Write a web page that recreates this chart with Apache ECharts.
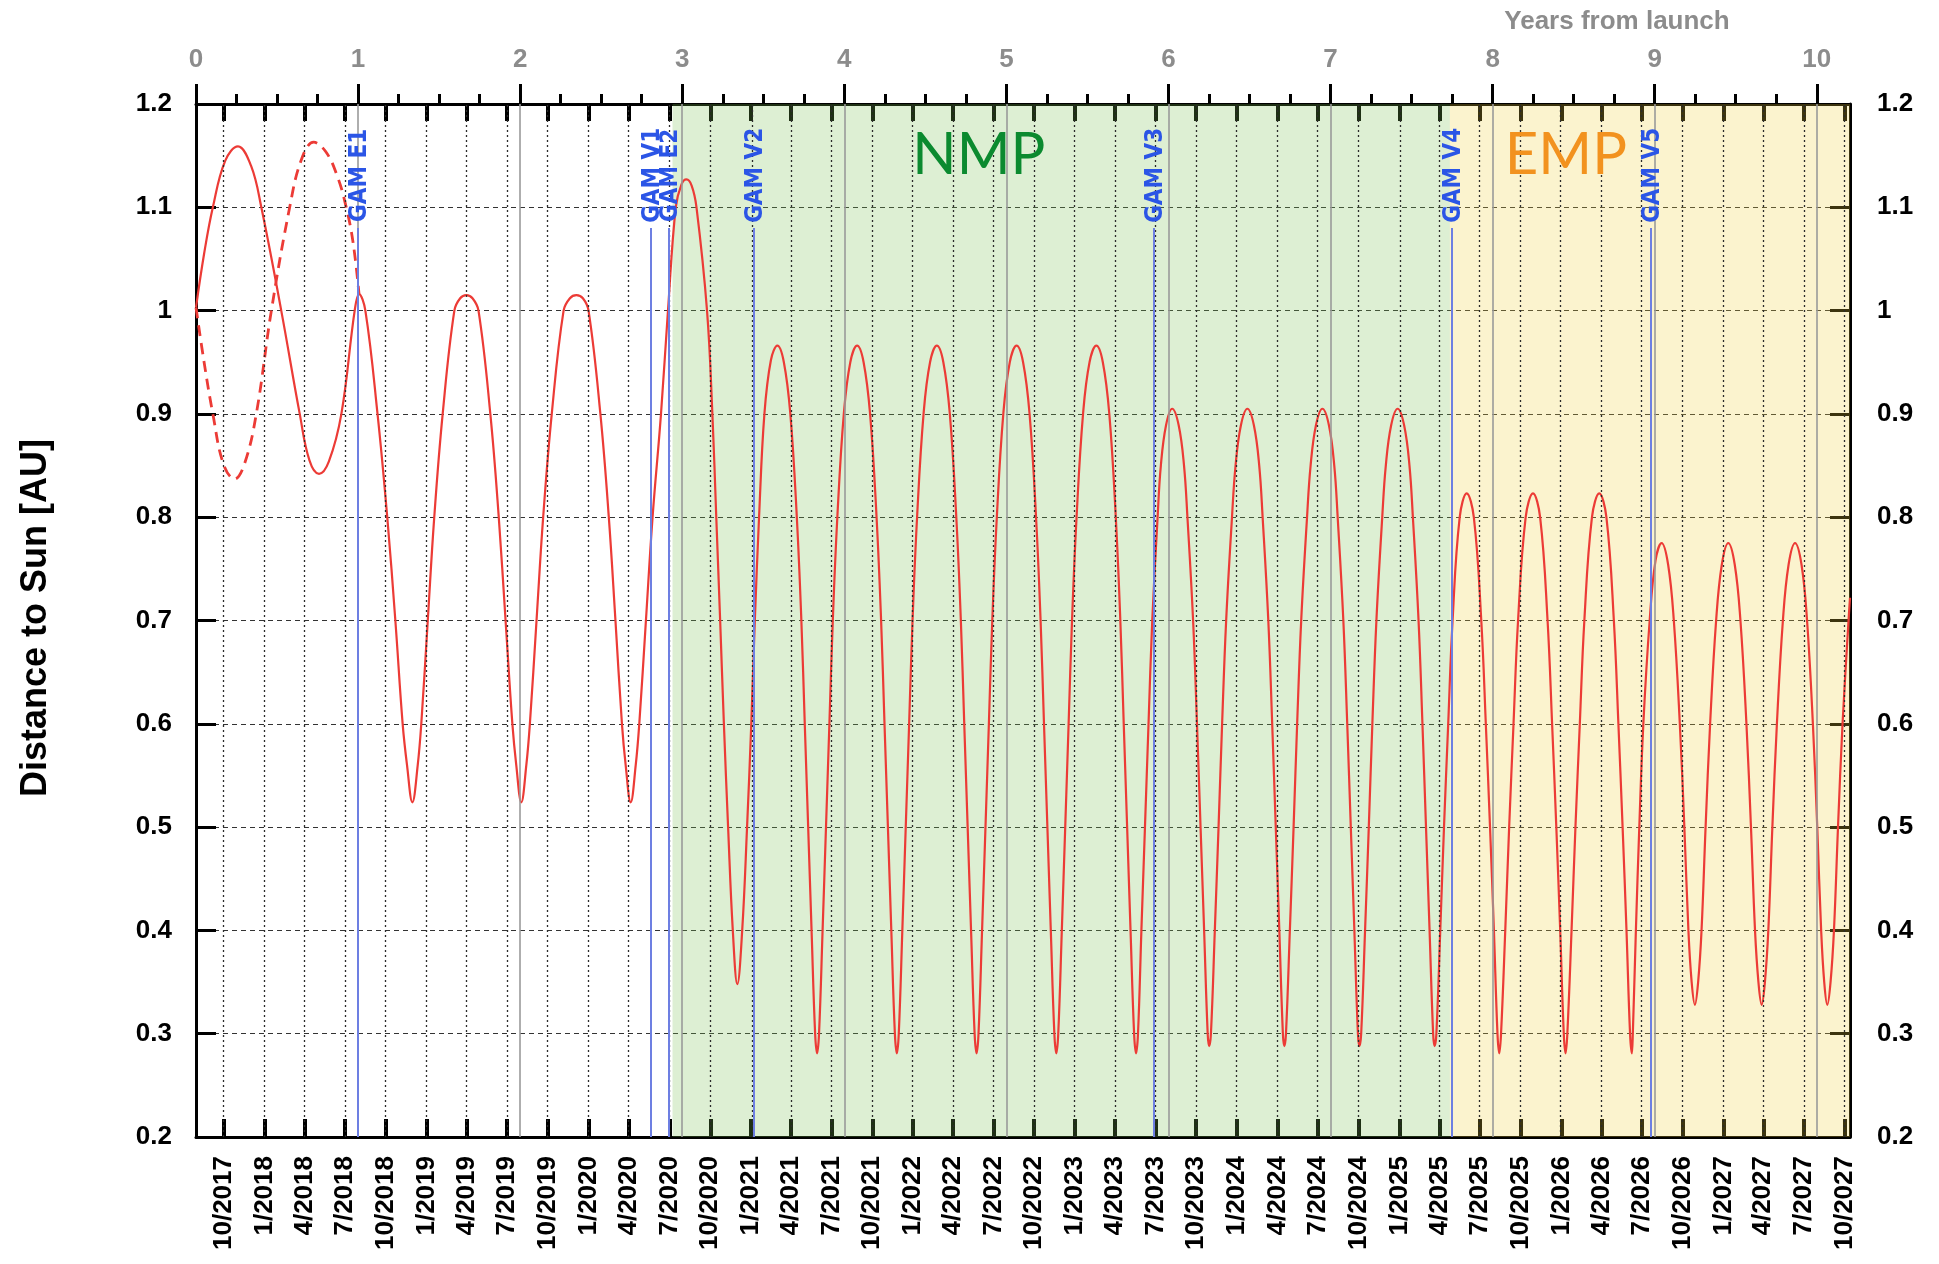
<!DOCTYPE html>
<html>
<head>
<meta charset="utf-8">
<title>Distance to Sun</title>
<script src="https://cdn.jsdelivr.net/npm/echarts@6/dist/echarts.min.js"></script>
<style>
  html, body { margin: 0; padding: 0; background: #ffffff; }
  #chart { width: 1939px; height: 1264px; }
</style>
</head>
<body>
<div id="chart"></div>
<script>
// ---- data -------------------------------------------------------------
// Launch epoch; the x scale is "years from launch".
const LAUNCH_UTC = Date.UTC(2017, 6, 30);
const X_MAX = 10.205;

// Calendar ticks (bottom axis)
const quarterLabels = [
  '10/2017',
  '1/2018', '4/2018', '7/2018', '10/2018',
  '1/2019', '4/2019', '7/2019', '10/2019',
  '1/2020', '4/2020', '7/2020', '10/2020',
  '1/2021', '4/2021', '7/2021', '10/2021',
  '1/2022', '4/2022', '7/2022', '10/2022',
  '1/2023', '4/2023', '7/2023', '10/2023',
  '1/2024', '4/2024', '7/2024', '10/2024',
  '1/2025', '4/2025', '7/2025', '10/2025',
  '1/2026', '4/2026', '7/2026', '10/2026',
  '1/2027', '4/2027', '7/2027', '10/2027'
];

// Years-from-launch ticks (top axis)
const yearTicks = [0, 1, 2, 3, 4, 5, 6, 7, 8, 9, 10];

// Sun distance [AU] versus years from launch, baseline trajectory
const distanceSolid = [
  [0.000, 1.003], [0.050, 1.055], [0.104, 1.100], [0.180, 1.145], [0.259, 1.159], [0.340, 1.140],
  [0.403, 1.100], [0.526, 1.000], [0.640, 0.900], [0.700, 0.855], [0.759, 0.842], [0.820, 0.854],
  [0.897, 0.900], [0.979, 1.000], [1.006, 1.016],
  [1.045, 1.000], [1.120, 0.900], [1.180, 0.800], [1.230, 0.700], [1.275, 0.600], [1.302, 0.560],
  [1.335, 0.524], [1.368, 0.560], [1.390, 0.600], [1.430, 0.700], [1.470, 0.800], [1.522, 0.900],
  [1.594, 1.000], [1.630, 1.012], [1.668, 1.015], [1.706, 1.012], [1.743, 1.000], [1.816, 0.900],
  [1.868, 0.800], [1.910, 0.700], [1.952, 0.600], [1.976, 0.560], [2.007, 0.524], [2.038, 0.560],
  [2.060, 0.600], [2.101, 0.700], [2.142, 0.800], [2.195, 0.900], [2.268, 1.000], [2.307, 1.012],
  [2.347, 1.015], [2.387, 1.012], [2.422, 1.000], [2.495, 0.900], [2.547, 0.800], [2.588, 0.700],
  [2.628, 0.600], [2.651, 0.560], [2.682, 0.524],
  [2.713, 0.560], [2.735, 0.600], [2.776, 0.700], [2.817, 0.800], [2.869, 0.900], [2.912, 1.000],
  [2.960, 1.100], [2.995, 1.122], [3.026, 1.127], [3.058, 1.121], [3.088, 1.100], [3.153, 1.000],
  [3.186, 0.900], [3.210, 0.800], [3.234, 0.700], [3.257, 0.600], [3.283, 0.500], [3.312, 0.400],
  [3.340, 0.348], [3.370, 0.400], [3.400, 0.500], [3.426, 0.600], [3.448, 0.700], [3.474, 0.800],
  [3.507, 0.900], [3.547, 0.952], [3.587, 0.966],
  // nominal mission phase
  [3.627, 0.950], [3.667, 0.900], [3.707, 0.800], [3.735, 0.700], [3.756, 0.600], [3.777, 0.500],
  [3.798, 0.400], [3.820, 0.300], [3.832, 0.281],
  [3.844, 0.300], [3.866, 0.400], [3.887, 0.500], [3.908, 0.600], [3.929, 0.700], [3.957, 0.800],
  [3.997, 0.900], [4.037, 0.950], [4.079, 0.966],
  [4.119, 0.950], [4.159, 0.900], [4.199, 0.800], [4.227, 0.700], [4.248, 0.600], [4.269, 0.500],
  [4.290, 0.400], [4.312, 0.300], [4.324, 0.281],
  [4.336, 0.300], [4.358, 0.400], [4.379, 0.500], [4.400, 0.600], [4.421, 0.700], [4.449, 0.800],
  [4.489, 0.900], [4.529, 0.950], [4.571, 0.966],
  [4.611, 0.950], [4.651, 0.900], [4.691, 0.800], [4.719, 0.700], [4.740, 0.600], [4.761, 0.500],
  [4.782, 0.400], [4.804, 0.300], [4.816, 0.281],
  [4.828, 0.300], [4.850, 0.400], [4.871, 0.500], [4.892, 0.600], [4.913, 0.700], [4.941, 0.800],
  [4.981, 0.900], [5.021, 0.950], [5.063, 0.966],
  [5.103, 0.950], [5.143, 0.900], [5.183, 0.800], [5.211, 0.700], [5.232, 0.600], [5.253, 0.500],
  [5.274, 0.400], [5.296, 0.300], [5.308, 0.281],
  [5.320, 0.300], [5.342, 0.400], [5.363, 0.500], [5.384, 0.600], [5.405, 0.700], [5.433, 0.800],
  [5.473, 0.900], [5.513, 0.950], [5.555, 0.966],
  [5.595, 0.950], [5.635, 0.900], [5.675, 0.800], [5.703, 0.700], [5.724, 0.600], [5.745, 0.500],
  [5.766, 0.400], [5.788, 0.300], [5.800, 0.281],
  [5.812, 0.300], [5.833, 0.400], [5.855, 0.500], [5.877, 0.600], [5.900, 0.700], [5.933, 0.800],
  [5.953, 0.850], [5.985, 0.889], [6.023, 0.905],
  [6.063, 0.889], [6.096, 0.850], [6.117, 0.800], [6.152, 0.700], [6.176, 0.600], [6.198, 0.500],
  [6.220, 0.400], [6.242, 0.300], [6.251, 0.288],
  [6.262, 0.300], [6.286, 0.400], [6.309, 0.500], [6.331, 0.600], [6.356, 0.700], [6.392, 0.800],
  [6.414, 0.850], [6.447, 0.889], [6.487, 0.905],
  [6.527, 0.889], [6.560, 0.850], [6.581, 0.800], [6.616, 0.700], [6.640, 0.600], [6.662, 0.500],
  [6.684, 0.400], [6.706, 0.300], [6.715, 0.288],
  [6.725, 0.300], [6.749, 0.400], [6.772, 0.500], [6.794, 0.600], [6.819, 0.700], [6.855, 0.800],
  [6.877, 0.850], [6.910, 0.889], [6.950, 0.905],
  [6.990, 0.889], [7.023, 0.850], [7.044, 0.800], [7.079, 0.700], [7.103, 0.600], [7.125, 0.500],
  [7.147, 0.400], [7.169, 0.300], [7.178, 0.288],
  [7.189, 0.300], [7.213, 0.400], [7.236, 0.500], [7.258, 0.600], [7.283, 0.700], [7.319, 0.800],
  [7.341, 0.850], [7.374, 0.889], [7.414, 0.905],
  [7.454, 0.889], [7.487, 0.850], [7.508, 0.800], [7.543, 0.700], [7.567, 0.600], [7.589, 0.500],
  [7.611, 0.400], [7.633, 0.300], [7.642, 0.288],
  // extended mission phase
  [7.653, 0.300], [7.677, 0.400], [7.700, 0.500], [7.726, 0.600], [7.753, 0.700], [7.797, 0.800],
  [7.840, 0.823],
  [7.884, 0.800], [7.930, 0.700], [7.958, 0.600], [7.984, 0.500], [8.008, 0.400], [8.030, 0.300],
  [8.041, 0.281],
  [8.052, 0.300], [8.078, 0.400], [8.102, 0.500], [8.129, 0.600], [8.157, 0.700], [8.204, 0.800],
  [8.249, 0.823],
  [8.293, 0.800], [8.339, 0.700], [8.367, 0.600], [8.393, 0.500], [8.417, 0.400], [8.439, 0.300],
  [8.450, 0.281],
  [8.461, 0.300], [8.487, 0.400], [8.511, 0.500], [8.538, 0.600], [8.566, 0.700], [8.613, 0.800],
  [8.658, 0.823],
  [8.702, 0.800], [8.748, 0.700], [8.776, 0.600], [8.802, 0.500], [8.826, 0.400], [8.848, 0.300],
  [8.859, 0.281],
  [8.865, 0.300], [8.884, 0.400], [8.905, 0.500], [8.930, 0.600], [8.969, 0.700], [9.005, 0.758],
  [9.043, 0.775],
  [9.083, 0.754], [9.118, 0.700], [9.155, 0.600], [9.183, 0.500], [9.208, 0.400], [9.228, 0.350],
  [9.248, 0.328],
  [9.268, 0.350], [9.289, 0.400], [9.314, 0.500], [9.342, 0.600], [9.379, 0.700], [9.414, 0.754],
  [9.454, 0.775],
  [9.494, 0.754], [9.529, 0.700], [9.566, 0.600], [9.594, 0.500], [9.619, 0.400], [9.640, 0.350],
  [9.660, 0.328],
  [9.680, 0.350], [9.701, 0.400], [9.726, 0.500], [9.754, 0.600], [9.791, 0.700], [9.826, 0.754],
  [9.866, 0.775],
  [9.906, 0.754], [9.940, 0.700], [9.976, 0.600], [10.003, 0.500], [10.027, 0.400], [10.046, 0.350],
  [10.065, 0.328],
  [10.085, 0.350], [10.106, 0.400], [10.131, 0.500], [10.159, 0.600], [10.196, 0.700], [10.205, 0.722]
];

// Alternative first year (dashed), joining the baseline at the Earth flyby
const distanceDashed = [
  [0.000, 1.003], [0.050, 0.950], [0.104, 0.900], [0.170, 0.851], [0.238, 0.837], [0.300, 0.852],
  [0.372, 0.900], [0.465, 1.000], [0.578, 1.100], [0.650, 1.146], [0.726, 1.163], [0.800, 1.154],
  [0.870, 1.131], [0.927, 1.100], [0.970, 1.065], [1.006, 1.016]
];

// Gravity assist manoeuvres
const gamNames = ['GAM E1', 'GAM V1', 'GAM E2', 'GAM V2', 'GAM V3', 'GAM V4', 'GAM V5'];
const gamYears = [1.000, 2.804, 2.915, 3.441, 5.910, 7.748, 8.977];

// Mission phases
const phaseNames = ['NMP', 'EMP'];
const phaseFrom = [2.940, 7.736];
const phaseTo = [7.736, 10.205];

// ---- derived tick positions ----------------------------------------------
const YEAR_MS = 365.25 * 86400000;
function quarterToYears(label) {
  const parts = label.split('/');
  return (Date.UTC(+parts[1], +parts[0] - 1, 1) - LAUNCH_UTC) / YEAR_MS;
}
const quarterPos = quarterLabels.map(quarterToYears);
const quarterLabelByKey = {};
quarterPos.forEach((p, i) => { quarterLabelByKey[p.toFixed(5)] = quarterLabels[i]; });

const quarterYearTicks = [];
yearTicks.forEach(y => {
  [0.25, 0.5, 0.75].forEach(f => { if (y + f < X_MAX) quarterYearTicks.push(y + f); });
});

// ---- styling --------------------------------------------------------------
const FONT = '"Liberation Sans", Arial, Helvetica, sans-serif';
const NARROW = '"Liberation Sans Narrow", "DejaVu Sans Condensed", "Liberation Sans", sans-serif';
const phaseOverlay = ['rgba(120,190,80,0.25)', 'rgba(240,208,60,0.25)'];
const phaseTextColor = ['#0b8a2f', '#f2921f'];
const phaseLabelAt = [[4.830, 1.150], [8.452, 1.150]];
const GAM_LABEL_Y = 1.131;
const GAM_LINE_TOP = 1.080;

const chart = echarts.init(document.getElementById('chart'), null, { renderer: 'canvas' });

const gridLineData = [];
quarterPos.forEach(p => {
  gridLineData.push({ xAxis: p, lineStyle: { color: '#2a2a2a', width: 1.3, type: [2, 3] } });
});
yearTicks.slice(1).forEach(y => {
  gridLineData.push({ xAxis: y, lineStyle: { color: '#9a9a9a', width: 1.6, type: 'solid' } });
});

const option = {
  animation: false,
  backgroundColor: '#ffffff',
  grid: { left: 196, right: 89, top: 104, bottom: 127, containLabel: false, outerBoundsMode: 'none' },
  xAxis: [
    {
      type: 'value', position: 'bottom', min: 0, max: X_MAX,
      axisLine: { show: true, onZero: false, lineStyle: { color: '#000', width: 3 } },
      axisTick: { show: true, inside: true, length: 18, customValues: quarterPos, lineStyle: { color: '#000', width: 4 } },
      axisLabel: {
        show: true, customValues: quarterPos, rotate: 90, margin: 19,
        color: '#000', fontFamily: FONT, fontWeight: 'bold', fontSize: 26,
        formatter: v => quarterLabelByKey[Number(v).toFixed(5)] || ''
      },
      splitLine: { show: false }
    },
    {
      type: 'value', position: 'top', min: 0, max: X_MAX,
      axisLine: { show: true, onZero: false, lineStyle: { color: '#000', width: 3 } },
      axisTick: { show: true, inside: false, length: 20, customValues: yearTicks, lineStyle: { color: '#000', width: 3 } },
      axisLabel: {
        show: true, customValues: yearTicks, margin: 31,
        color: '#8c8c8c', fontFamily: FONT, fontWeight: 'bold', fontSize: 26
      },
      splitLine: { show: false }
    },
    {
      type: 'value', position: 'top', min: 0, max: X_MAX,
      axisLine: { show: false },
      axisTick: { show: true, inside: false, length: 10, customValues: quarterYearTicks, lineStyle: { color: '#000', width: 3 } },
      axisLabel: { show: false },
      splitLine: { show: false }
    },
    {
      type: 'value', position: 'top', min: 0, max: X_MAX,
      axisLine: { show: false },
      axisTick: { show: true, inside: true, length: 17, customValues: quarterPos, lineStyle: { color: '#000', width: 4 } },
      axisLabel: { show: false },
      splitLine: { show: false }
    }
  ],
  yAxis: [
    {
      type: 'value', position: 'left', min: 0.2, max: 1.2, interval: 0.1,
      axisLine: { show: true, onZero: false, lineStyle: { color: '#000', width: 3 } },
      axisTick: { show: true, inside: true, length: 20, lineStyle: { color: '#000', width: 3 } },
      axisLabel: { margin: 24, color: '#000', fontFamily: FONT, fontWeight: 'bold', fontSize: 26 },
      splitLine: { show: true, lineStyle: { color: '#333', width: 1, type: [5, 4] } }
    },
    {
      type: 'value', position: 'right', min: 0.2, max: 1.2, interval: 0.1,
      axisLine: { show: true, onZero: false, lineStyle: { color: '#000', width: 3 } },
      axisTick: { show: true, inside: true, length: 20, lineStyle: { color: '#000', width: 3 } },
      axisLabel: { margin: 27, color: '#000', fontFamily: FONT, fontWeight: 'bold', fontSize: 26 },
      splitLine: { show: false }
    }
  ],
  series: [
    {
      name: 'grid', type: 'line', data: [], z: 1, silent: true,
      markLine: { silent: true, symbol: ['none', 'none'], label: { show: false }, data: gridLineData }
    },
    {
      name: 'distance', type: 'line', data: distanceSolid, z: 3,
      showSymbol: false, smooth: 0.4, clip: true,
      lineStyle: { color: '#ec3b36', width: 2.2 }
    },
    {
      name: 'distance (alt.)', type: 'line', data: distanceDashed, z: 3,
      showSymbol: false, smooth: 0.4,
      lineStyle: { color: '#ec3b36', width: 2.8, type: [11, 7] }
    },
    {
      name: 'gam lines', type: 'line', data: [], z: 3, silent: true,
      markLine: {
        silent: true, symbol: ['none', 'none'], label: { show: false },
        lineStyle: { color: '#6d7fe2', width: 2, type: 'solid' },
        data: gamYears.map(x => [{ coord: [x, GAM_LINE_TOP] }, { coord: [x, 0.2] }])
      }
    },
    {
      name: 'phases', type: 'line', data: [], z: 5, silent: true,
      markArea: {
        silent: true,
        data: phaseNames.map((n, i) => [
          { xAxis: phaseFrom[i], itemStyle: { color: phaseOverlay[i] } },
          { xAxis: phaseTo[i] }
        ])
      }
    },
    {
      name: 'labels', type: 'line', data: [], z: 7, silent: true,
      markPoint: {
        silent: true, symbol: 'circle', symbolSize: 0,
        data: gamNames.map((n, i) => ({
          coord: [gamYears[i] + 0.012, GAM_LABEL_Y],
          label: {
            show: true, position: 'inside', formatter: n, rotate: 90,
            color: '#2b55e6', fontFamily: NARROW, fontWeight: 'bold', fontSize: 24
          }
        })).concat(phaseNames.map((n, i) => ({
          coord: phaseLabelAt[i],
          label: {
            show: true, position: 'inside', formatter: n,
            color: phaseTextColor[i], fontFamily: 'Lato, "Open Sans", sans-serif', fontWeight: 'normal', fontSize: 58
          }
        })))
      }
    }
  ],
  graphic: [
    {
      type: 'text', x: 36, y: 618, rotation: Math.PI / 2, silent: true,
      style: {
        text: 'Distance to Sun [AU]', font: 'bold 36px ' + FONT, fill: '#000',
        align: 'center', verticalAlign: 'middle', textAlign: 'center', textVerticalAlign: 'middle'
      }
    },
    {
      type: 'text', x: 1617, y: 22, silent: true,
      style: {
        text: 'Years from launch', font: 'bold 26px ' + FONT, fill: '#8c8c8c',
        align: 'center', verticalAlign: 'middle', textAlign: 'center', textVerticalAlign: 'middle'
      }
    }
  ]
};

chart.setOption(option);
</script>
</body>
</html>
